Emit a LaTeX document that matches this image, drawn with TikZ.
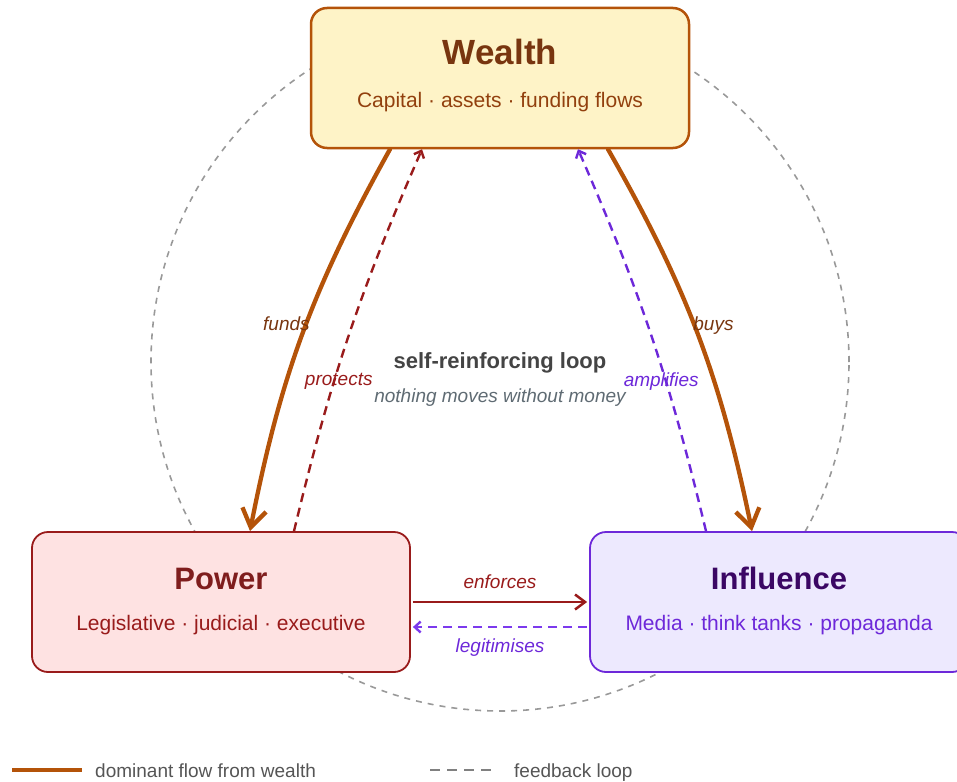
\documentclass[tikz,border=0pt]{standalone}
\usepackage{fontspec}
\setmainfont{Liberation Sans}
\usetikzlibrary{arrows.meta}
\definecolor{amberF}{HTML}{FEF3C7}
\definecolor{amberD}{HTML}{B45309}
\definecolor{amberT}{HTML}{78350F}
\definecolor{amberS}{HTML}{92400E}
\definecolor{redF}{HTML}{FEE2E2}
\definecolor{redD}{HTML}{991B1B}
\definecolor{redT}{HTML}{7F1D1D}
\definecolor{vioF}{HTML}{EDE9FE}
\definecolor{vioD}{HTML}{6D28D9}
\definecolor{vioT}{HTML}{3B0764}
\definecolor{vioL}{HTML}{7C3AED}
\definecolor{ringC}{HTML}{999999}
\definecolor{inkC}{HTML}{444444}
\definecolor{noteC}{HTML}{5F6B73}
\definecolor{legC}{HTML}{555555}
\begin{document}
\begin{tikzpicture}[x=1pt,y=1pt,line join=round,
	box/.style={draw,rounded corners=16pt,minimum width=378pt,minimum height=140pt,inner sep=0pt},
	ttl/.style={anchor=base,inner sep=0pt,font=\fontsize{31}{36}\selectfont\bfseries},
	sub/.style={anchor=base,inner sep=0pt,font=\fontsize{21}{25}\selectfont},
	lbl/.style={inner sep=0pt,font=\fontsize{19}{23}\selectfont\itshape},
	heavy/.style={line width=4.3pt,amberD,line cap=round,-{Straight Barb[length=18pt,width=24pt]}},
	back/.style={line width=2.4pt,dash pattern=on 9pt off 6pt,-{Straight Barb[length=6pt,width=11pt]}}]
	\useasboundingbox (0,0) rectangle (957,-781);
	% the ring behind everything
	\draw[ringC,line width=1.6pt,dash pattern=on 6pt off 6pt] (500,-362) circle (349);
	% the three boxes
	\node[box,draw=amberD,fill=amberF,line width=2.5pt] (wealth) at (500,-78) {};
	\node[box,draw=redD,fill=redF,line width=1.8pt] (power) at (221,-602) {};
	\node[box,draw=vioD,fill=vioF,line width=1.8pt] (influence) at (779,-602) {};
	\node[ttl,text=amberT,font=\fontsize{35}{40}\selectfont\bfseries] (wealthT) at ([yshift=13]wealth.center) {Wealth};
	\node[sub,text=amberS] (wealthS) at ([yshift=-29]wealth.center) {Capital · assets · funding flows};
	\node[ttl,text=redT] (powerT) at ([yshift=13]power.center) {Power};
	\node[sub,text=redD] (powerS) at ([yshift=-28]power.center) {Legislative · judicial · executive};
	\node[ttl,text=vioT] (influenceT) at ([yshift=13]influence.center) {Influence};
	\node[sub,text=vioD] (influenceS) at ([yshift=-28]influence.center) {Media · think tanks · propaganda};
	% flows out of wealth
	\draw[heavy] ([xshift=-110]wealth.south) to[bend right=9]
	node[lbl,pos=.47,xshift=-20,text=amberT] (fundsL) {funds} ([xshift=29]power.north);
	\draw[heavy] ([xshift=108]wealth.south) to[bend left=9]
	node[lbl,pos=.47,xshift=20,yshift=-3,text=amberT] (buysL) {buys} ([xshift=-27]influence.north);
	% feedback
	\draw[back,redD] ([xshift=73]power.north) to[bend left=5]
	node[lbl,pos=.39,xshift=3,yshift=-6,text=redD] (protectsL) {protects} ([xshift=-78]wealth.south);
	\draw[back,vioD] ([xshift=-73]influence.north) to[bend right=5]
	node[lbl,pos=.39,xshift=-3,yshift=-6,text=vioD] (amplifiesL) {amplifies} ([xshift=78]wealth.south);
	% power <-> influence
	\draw[redD,line width=2.5pt,-{Straight Barb[length=10pt,width=15pt]}] ([xshift=2]power.east) --
	node[lbl,yshift=20,text=redD] (enforcesL) {enforces} ([xshift=-2]influence.west);
	\draw[back,vioL] ([shift={(-2,-25)}]influence.west) --
	node[lbl,yshift=-21,text=vioD] (legitL) {legitimises} ([shift={(2,-25)}]power.east);
	% middle
	\node[inner sep=0pt,font=\fontsize{22}{26}\selectfont\bfseries,text=inkC] (loopT) at (500,-363) {self-reinforcing loop};
	\node[lbl,text=noteC] (loopN) at (500,-398) {nothing moves without money};
	% legend
	\coordinate (legA1) at (12,-770);
	\coordinate (legA2) at (82,-770);
	\coordinate (legB1) at (430,-770);
	\coordinate (legB2) at (494,-770);
	\draw[amberD,line width=4.5pt] (legA1) -- (legA2);
	\draw[gray,line width=2.5pt,dash pattern=on 10pt off 7pt] (legB1) -- (legB2);
	\node[anchor=base west,inner sep=0pt,font=\fontsize{19}{23}\selectfont,text=legC] (legA) at (95,-777) {dominant flow from wealth};
	\node[anchor=base west,inner sep=0pt,font=\fontsize{19}{23}\selectfont,text=legC] (legB) at (514,-777) {feedback loop};
\end{tikzpicture}
\end{document}
